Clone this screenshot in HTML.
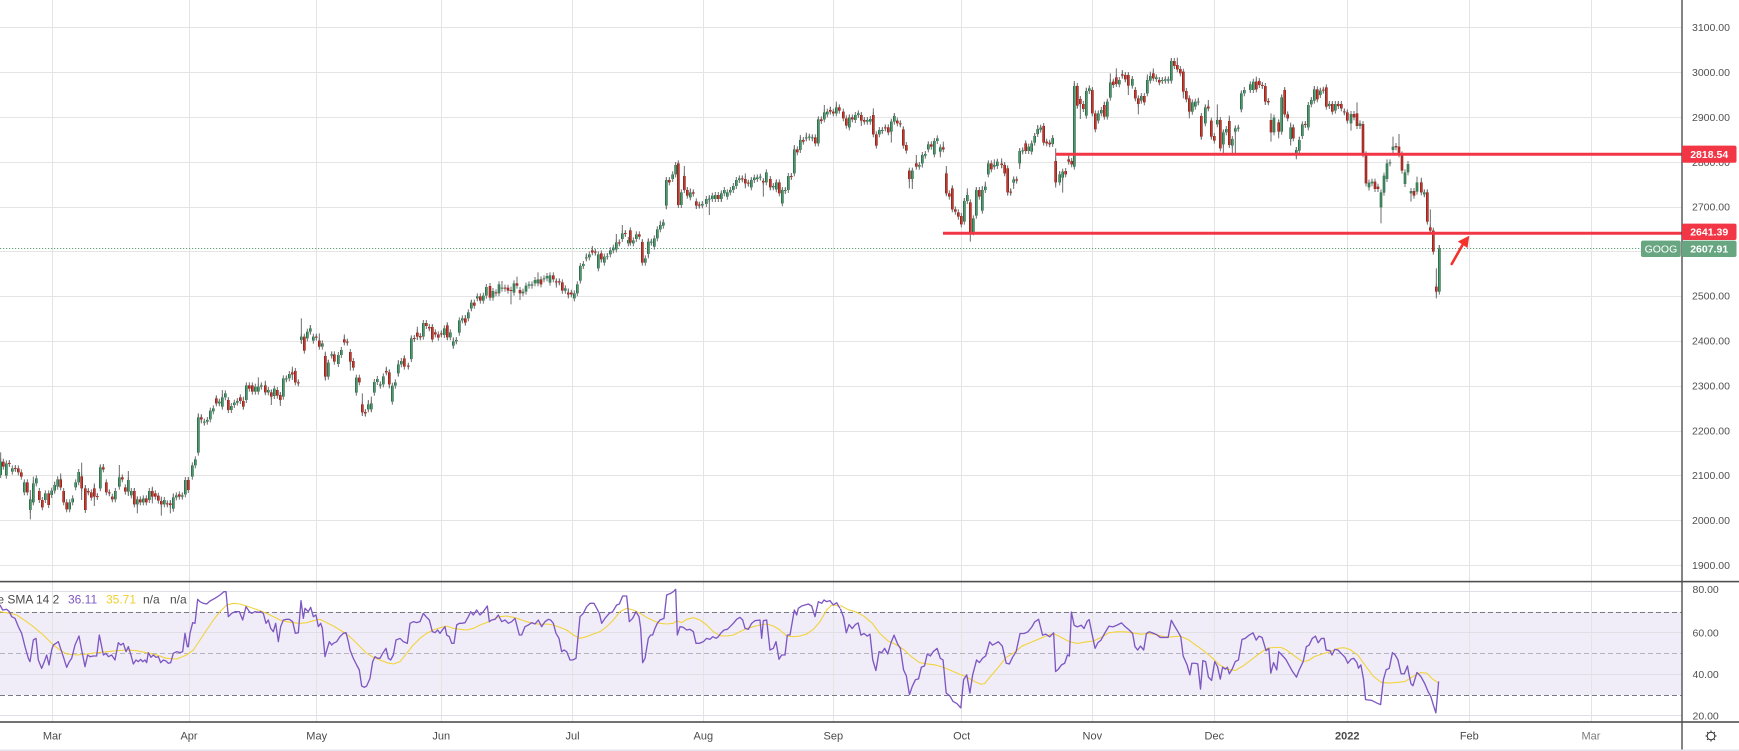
<!DOCTYPE html>
<html><head><meta charset="utf-8"><style>
html,body{margin:0;padding:0;background:#fff;overflow:hidden}
svg{display:block}
</style></head><body>
<svg width="1739" height="751" xmlns="http://www.w3.org/2000/svg" font-family="'Liberation Sans', Arial, sans-serif">
<defs>
<clipPath id="cm"><rect x="0" y="0" width="1681" height="581"/></clipPath>
<clipPath id="cr"><rect x="0" y="583" width="1681" height="138"/></clipPath>
<marker id="wk" markerUnits="userSpaceOnUse" markerWidth="1" markerHeight="1" orient="0" style="overflow:visible"><path d="M0 -9V9" stroke="#6d6d6d" stroke-width="3" fill="none"/></marker>
<path id="b5g" d="M2 575V615M19 580V617M37 595V605M73 637V667M91 688V720M100 640V697M109 625V640M136 670V690M155 662V675M164 645V662M173 628V650M209 697V718M218 685V697M227 637V652M236 606V637M301 592V655M346 663V688M358 622V650M385 630V665M394 663V676M412 688V703M430 685V697M448 663V690M493 690V703M520 682V716M529 676V682M547 676V680M556 630V673M577 586V620M586 568V586M595 442V548M613 455V458M622 450V455M631 422V448M640 415V424M658 395V400M667 382V410M676 370V382M694 408V420M703 398V405M712 393V398M739 346V390M766 350V365M775 350V365M784 346V350M805 360V367M823 356V378M850 325V380M859 325V328M868 312V325M904 200V210M922 185V205M931 175V185M940 200V212M967 220V230M985 278V320"/>
<path id="b5r" d="M10 575V590M28 579V582M46 594V597M55 595V607M64 607V620M82 637V667M118 663V690M127 690V712M146 670V705M182 628V652M191 663V697M200 697V718M245 619V655M256 655V720M265 663V667M274 667V683M283 655V680M292 678V681M310 592V598M319 637V667M328 667V670M337 680V688M367 622V628M376 652V665M403 663V703M421 688V697M439 685V697M457 663V680M466 670V680M475 677V692M484 693V703M502 700V703M511 700V705M538 673V680M565 630V660M604 442V448M649 385V400M685 390V420M721 382V393M730 393V410M748 346V356M757 346V365M796 346V367M814 367V380M832 360V377M841 375V390M877 307V313M886 303V337M895 337V340M913 200V242M949 200V203M958 212V230M976 258V320"/>
<path id="b6g" d="M35 643V647M55 645V672M64 630V645M109 713V758M145 793V808M154 790V808M163 726V758M172 717V726M181 733V737M190 709V733M217 737V785M226 727V737M235 673V700M244 663V673M274 595V657M310 549V590M373 565V585M391 577V592M400 604V617M409 600V604M418 541V578M427 535V541M445 517V535M454 488V505M472 469V475M490 467V482M499 441V467M519 453V473M537 433V460M546 443V446M582 430V458M609 455V460M618 437V455M627 433V437M636 433V437M645 420V430M654 418V430M672 415V418M681 408V415M690 406V428M736 445V452M763 460V475M772 433V460M781 378V422M790 372V378M799 352V355M808 343V352M835 343V385M853 350V368M862 348V350M871 331V343M880 323V331M889 307V328M907 280V297M925 300V310M940 301V310M949 283V297M976 355V368M985 305V342M994 305V308M1003 295V320M1012 268V295M1021 255V268M1030 247V257M1039 120V197"/>
<path id="b6r" d="M43 643V665M73 598V607M82 605V608M91 636V665M100 663V683M118 713V727M127 793V817M136 816V820M199 693V697M208 697V733M253 655V680M265 677V680M283 594V597M292 578V590M301 588V592M319 549V558M328 561V565M337 561V598M346 577V583M355 583V593M364 580V583M382 556V592M436 535V548M463 488V497M481 469V482M510 438V473M528 457V460M555 443V446M564 443V452M573 450V453M591 430V437M600 450V460M663 418V433M700 406V418M709 424V427M718 424V427M727 427V452M745 458V463M754 458V463M817 331V337M826 335V338M844 340V358M898 307V310M916 279V282M931 271V308M958 283V290M967 306V368M1048 120V127"/>
<path id="b7g" d="M8 283V297M17 255V283M34 337V375M61 337V352M97 372V376M109 357V372M118 356V359M127 347V357M136 345V357M154 340V357M163 330V340M172 337V350M181 330V337M190 318V330M199 300V318M208 295V300M244 300V322M253 293V300M262 292V297M271 290V293M289 277V307M310 318V322M319 307V328M337 330V370M346 330V333M355 288V330M373 208V280M391 180V210M409 172V175M418 170V173M427 172V175M445 118V190M463 97V118M472 95V103M499 82V100M538 112V142M556 105V120M565 100V105M592 120V125M601 117V125M628 150V163M637 150V153M664 125V155M673 108V125M727 272V297M748 255V260M757 225V250M766 222V227M775 193V208M793 183V223M802 175V183M811 202V215M883 363V425M892 345V363M910 415V457M919 330V407M937 330V392M946 320V330M955 250V283M973 255V260M982 245V258"/>
<path id="b7r" d="M25 250V375M43 288V330M52 330V347M70 337V341M79 364V377M88 374V377M145 345V357M217 295V298M226 297V310M235 308V311M280 303V307M301 297V322M328 307V340M364 288V291M382 208V217M400 180V185M436 172V190M454 118V123M481 90V95M490 95V100M508 82V92M520 95V115M529 115V137M547 112V118M574 105V122M583 120V125M610 105V163M619 163V197M646 142V145M655 142V157M682 122V130M691 130V133M700 148V197M709 195V212M718 272V297M739 250V260M784 193V200M820 202V208M829 280V340M838 340V350M847 325V388M856 388V395M865 397V410M874 408V433M901 367V457M928 330V350M964 250V268"/>
<path id="b8g" d="M71 403V413M89 318V355M98 316V319M116 305V318M125 295V320M134 273V293M143 252V267M152 248V254M188 279V297M209 388V412M218 380V398M253 123V365M289 138V212M298 130V138M325 205V227M334 195V205M352 170V215M361 112V158M388 105V118M427 102V122M454 153V167M472 105V145M481 93V107M499 97V102M517 105V108M526 103V107M535 103V107M544 48V107M607 172V200M616 170V185M625 170V172M646 187V235M682 225V238M700 262V298M709 252V262M727 282V302M736 250V260M745 248V251M754 145V193M763 135V145M781 118V135M790 110V135"/>
<path id="b8r" d="M35 356V360M44 360V385M53 370V442M62 440V443M80 403V407M107 295V318M161 243V293M170 290V295M179 293V298M197 348V412M227 378V388M236 343V350M245 348V358M262 123V182M271 162V177M280 177V192M307 135V205M316 205V253M343 180V215M370 110V120M379 97V117M397 88V92M406 90V103M415 90V122M436 135V160M445 160V177M463 153V172M490 85V100M508 105V112M553 48V63M562 60V73M571 72V85M580 80V140M589 138V163M598 160V200M634 213V275M655 185V190M664 227V275M673 273V287M691 225V310M718 228V300M799 110V133M808 108V120M817 120V123M826 123V170M835 168V172"/>
<path id="b9g" d="M12 143V187M35 82V185M62 172V207M79 240V253M88 210V242M97 163V198M115 105V172M124 90V103M133 58V92M151 62V75M178 102V108M196 102V122M243 132V160M270 160V168M297 338V352M306 335V340M333 367V412M342 317V368M351 280V327M360 277V280M369 230V240M405 307V342M414 282V307M423 363V370M441 337V365M463 367V373M508 535V665"/>
<path id="b9r" d="M3 150V187M26 157V185M44 60V133M53 133V145M70 172V205M106 162V165M142 58V88M160 59V62M169 52V110M187 102V125M205 102V108M214 102V115M223 124V127M232 127V152M252 132V142M261 130V168M279 162V253M288 253V340M315 335V357M324 350V357M378 228V232M387 230V253M396 253V302M432 363V377M454 337V367M472 367V455M481 472V482M490 482V545M499 650V665"/>
</defs>

<rect x="0" y="0" width="1739" height="751" fill="#ffffff"/>

<!-- RSI band -->
<rect x="0" y="612" width="1682" height="83" fill="#f0edf9"/>

<!-- grid -->
<path d="M52.5 0V722M189.5 0V722M316.5 0V722M441.5 0V722M572.5 0V722M703.5 0V722M833.5 0V722M961.5 0V722M1092.5 0V722M1214.5 0V722M1347.5 0V722M1469.5 0V722M1591.5 0V722" stroke="#e4e4e4" stroke-width="1" fill="none"/>
<path d="M0 27.5H1682M0 72.5H1682M0 117.5H1682M0 162.5H1682M0 207.5H1682M0 251.5H1682M0 296.5H1682M0 341.5H1682M0 386.5H1682M0 431.5H1682M0 475.5H1682M0 520.5H1682M0 565.5H1682" stroke="#e4e4e4" stroke-width="1" fill="none"/>
<path d="M0 591.5H1682M0 632.5H1682M0 674.5H1682M0 715.5H1682" stroke="#e0dfe6" stroke-width="1" fill="none"/>

<!-- RSI level lines -->
<path d="M0 612.5H1682M0 695.5H1682" stroke="#787b86" stroke-width="1" stroke-dasharray="5,3" fill="none"/>
<path d="M0 653.5H1682" stroke="#b4b4be" stroke-width="1" stroke-dasharray="5,3" fill="none"/>

<!-- current price dotted line -->
<path d="M0 248.5H1641" stroke="#5f9f7b" stroke-width="1" stroke-dasharray="1.2,1.8" fill="none"/>

<!-- candles -->
<g clip-path="url(#cm)" fill="none">
<g transform="translate(0,270) scale(0.333333)">
<path d="M2 547V617M91 660V748M904 145V222M100 620V700M164 635V668M182 610V655M245 578V690M256 645V722M283 640V708M301 585V657M310 582V600M358 585V652M385 603V678M403 655V705M412 680V730M457 650V700M484 680V737M511 690V730M520 670V718M565 622V662M595 430V550M604 433V460M649 378V405M667 360V412M685 385V422M730 380V418M775 322V365M796 332V372M814 360V405M841 368V408M877 290V330M886 300V340M931 165V190M958 190V232M976 245V332M985 270V322" stroke="#6d6d6d" stroke-width="3"/>
<use href="#b5g" stroke="none" marker-start="url(#wk)" marker-mid="url(#wk)" marker-end="url(#wk)"/>
<use href="#b5r" stroke="none" marker-start="url(#wk)" marker-mid="url(#wk)" marker-end="url(#wk)"/>
<use href="#b5g" stroke="#23603e" stroke-width="7.8"/>
<use href="#b5g" stroke="#55a479" stroke-width="3"/>
<use href="#b5r" stroke="#7d2019" stroke-width="7.8"/>
<use href="#b5r" stroke="#d93b30" stroke-width="3"/>
</g>
<g transform="translate(320,140) scale(0.333333)">
<path d="M73 583V610M91 636V692M127 760V828M136 815V830M145 780V812M154 770V815M199 680V700M208 690V745M235 660V710M253 648V680M274 590V660M292 560V600M337 555V600M382 548V600M400 592V626M436 525V555M454 480V512M510 432V475M546 423V447M573 440V493M591 410V440M600 448V480M654 397V432M709 420V443M745 445V475M781 375V425M799 340V358M817 318V340M844 338V368M889 282V330M907 255V298M931 268V315M967 300V370M985 295V355M1021 242V270M1030 240V258M1039 115V208" stroke="#6d6d6d" stroke-width="3"/>
<use href="#b6g" stroke="none" marker-start="url(#wk)" marker-mid="url(#wk)" marker-end="url(#wk)"/>
<use href="#b6r" stroke="none" marker-start="url(#wk)" marker-mid="url(#wk)" marker-end="url(#wk)"/>
<use href="#b6g" stroke="#23603e" stroke-width="7.8"/>
<use href="#b6g" stroke="#55a479" stroke-width="3"/>
<use href="#b6r" stroke="#7d2019" stroke-width="7.8"/>
<use href="#b6r" stroke="#d93b30" stroke-width="3"/>
</g>
<g transform="translate(670,80) scale(0.333333)">
<path d="M25 248V378M43 258V332M52 322V350M61 325V355M79 362V387M88 368V383M118 345V405M154 335V365M226 280V325M244 295V325M280 300V350M301 295V330M319 300V330M337 325V372M373 195V282M391 165V212M409 158V178M445 112V193M463 75V120M481 80V98M499 65V102M508 78V95M538 105V145M574 98V138M610 85V165M619 160V200M655 140V160M664 120V188M673 100V128M700 140V197M718 270V325M727 268V327M739 225V262M757 222V263M775 185V210M793 180V225M811 198V232M820 185V210M829 258V345M847 318V390M883 355V425M892 325V365M901 365V485M919 322V410M937 318V395M946 305V332M955 245V285M973 238V262M982 240V260" stroke="#6d6d6d" stroke-width="3"/>
<use href="#b7g" stroke="none" marker-start="url(#wk)" marker-mid="url(#wk)" marker-end="url(#wk)"/>
<use href="#b7r" stroke="none" marker-start="url(#wk)" marker-mid="url(#wk)" marker-end="url(#wk)"/>
<use href="#b7g" stroke="#23603e" stroke-width="7.8"/>
<use href="#b7g" stroke="#55a479" stroke-width="3"/>
<use href="#b7r" stroke="#7d2019" stroke-width="7.8"/>
<use href="#b7r" stroke="#d93b30" stroke-width="3"/>
</g>
<g transform="translate(990,45) scale(0.333333)">
<path d="M35 340V370M44 355V392M53 368V452M62 430V445M71 398V432M89 312V372M107 290V320M125 290V320M134 265V295M143 240V270M152 242V256M161 240V296M188 275V300M197 310V428M209 378V415M218 376V443M236 328V355M245 345V360M253 108V367M262 120V190M271 155V222M289 128V214M298 125V140M307 130V212M325 200V232M343 170V218M352 165V218M361 85V160M370 105V122M379 70V120M397 75V95M406 85V110M415 85V150M427 98V125M436 130V165M445 155V208M454 150V170M472 88V148M481 80V110M490 70V103M508 98V118M544 40V110M562 38V75M580 78V160M598 155V220M607 168V203M625 158V174M634 210V283M646 180V238M655 165V192M664 225V280M682 178V240M691 222V310M700 255V325M718 212V303M727 280V332M736 245V330M745 245V252M754 140V200M781 115V140M799 95V135M808 105V122M826 122V180" stroke="#6d6d6d" stroke-width="3"/>
<use href="#b8g" stroke="none" marker-start="url(#wk)" marker-mid="url(#wk)" marker-end="url(#wk)"/>
<use href="#b8r" stroke="none" marker-start="url(#wk)" marker-mid="url(#wk)" marker-end="url(#wk)"/>
<use href="#b8g" stroke="#23603e" stroke-width="7.8"/>
<use href="#b8g" stroke="#55a479" stroke-width="3"/>
<use href="#b8r" stroke="#7d2019" stroke-width="7.8"/>
<use href="#b8r" stroke="#d93b30" stroke-width="3"/>
</g>
<g transform="translate(1270,70) scale(0.333333)">
<path d="M3 130V215M12 140V190M26 150V205M35 75V187M44 55V135M53 128V148M62 158V227M70 165V207M79 232V268M88 200V244M97 160V200M124 85V105M133 48V95M151 55V78M169 50V112M187 98V128M205 95V110M214 100V117M232 122V155M243 125V182M261 97V170M279 158V255M288 250V342M297 330V362M315 330V360M333 365V460M342 310V370M351 268V330M369 200V242M387 192V255M396 250V305M405 300V345M423 355V395M432 360V380M441 320V368M454 323V370M463 360V378M472 360V458M481 418V485M490 478V547M499 595V685M508 525V667" stroke="#6d6d6d" stroke-width="3"/>
<use href="#b9g" stroke="none" marker-start="url(#wk)" marker-mid="url(#wk)" marker-end="url(#wk)"/>
<use href="#b9r" stroke="none" marker-start="url(#wk)" marker-mid="url(#wk)" marker-end="url(#wk)"/>
<use href="#b9g" stroke="#23603e" stroke-width="7.8"/>
<use href="#b9g" stroke="#55a479" stroke-width="3"/>
<use href="#b9r" stroke="#7d2019" stroke-width="7.8"/>
<use href="#b9r" stroke="#d93b30" stroke-width="3"/>
</g>
</g>

<!-- support / resistance lines -->
<path d="M1055.7 154.2H1682" stroke="#f23645" stroke-width="3" fill="none"/>
<path d="M943 233.2H1682" stroke="#f23645" stroke-width="3" fill="none"/>

<!-- arrow -->
<path d="M1451.7 264L1462.5 245" stroke="#f5312c" stroke-width="2.6" fill="none" stroke-linecap="round"/>
<path d="M1469.3 235.7L1457.8 241.5L1467.5 248Z" fill="#f5312c"/>

<!-- RSI lines -->
<g clip-path="url(#cr)" fill="none" stroke-linejoin="round">
<g transform="translate(0,580) scale(0.333333)">
<polyline stroke="#f2d33c" stroke-width="3.3" points="0,95 30,100 50,105 80,125 100,140 130,165 160,195 180,210 200,222 230,225 260,222 290,218 320,215 350,212 380,210 410,212 440,218 470,225 500,235 530,237 560,225 580,210 600,180 620,150 640,120 660,95 680,75 700,70 720,72 740,78 760,85 780,92 800,100 820,110 840,120 860,125 880,128 900,130 920,128 940,122 960,118 980,128 1000,138 1020,150 1040,162 1060,180 1080,200 1100,220 1120,232 1140,240 1160,248 1180,252 1200,245"/>
<polyline stroke="#7e57c2" stroke-width="4" points="0,75 8,90 20,88 28,95 35,110 45,115 55,140 65,160 75,200 85,235 90,245 100,180 108,175 115,240 125,265 133,245 140,225 147,255 155,210 160,195 168,190 175,185 180,200 190,230 200,262 208,245 215,235 225,195 237,168 245,210 255,260 263,225 270,230 280,228 290,228 298,165 305,200 310,225 318,220 325,230 335,225 345,240 355,188 362,195 370,190 378,215 385,200 392,222 400,252 408,240 415,245 422,238 428,245 435,240 440,248 445,218 453,232 460,225 468,232 475,230 482,248 490,240 498,243 505,250 512,248 520,220 530,215 540,218 548,215 555,160 562,200 565,200 570,160 578,128 585,130 593,58 600,65 610,70 620,72 630,63 645,55 660,45 672,35 678,35 685,110 695,100 705,95 718,95 728,120 738,80 748,95 755,100 765,95 775,97 782,95 790,100 798,130 805,120 812,145 820,155 827,130 835,185 842,140 850,120 860,118 868,118 878,125 886,160 895,158 903,62 910,115 915,85 925,95 932,82 940,110 948,105 955,140 962,130 967,145 975,230 982,205 988,185 995,195 1000,190 1010,185 1020,170 1030,160 1038,158 1045,185 1050,210 1060,235 1070,255 1078,270 1085,318 1093,322 1100,318 1110,295 1118,245 1125,230 1133,235 1140,235 1148,220 1158,205 1165,235 1172,240 1180,225 1188,180 1200,175"/>
</g>
<g transform="translate(400,580) scale(0.333333)">
<polyline stroke="#f2d33c" stroke-width="3.3" points="0,245 20,220 40,195 60,175 80,160 100,150 120,143 140,138 160,145 180,148 200,150 220,145 240,135 260,128 280,118 300,110 320,108 340,112 360,118 380,125 400,130 420,133 440,132 460,135 480,142 500,150 520,165 540,175 560,170 580,162 600,155 620,140 640,120 660,95 680,85 700,90 720,100 740,112 760,122 780,130 800,132 820,130 830,122 845,128 860,118 880,113 900,120 920,135 940,155 960,167 980,168 1000,165 1020,155 1040,145 1060,140 1080,135 1100,132 1120,138 1140,150 1160,168 1180,170 1200,168 1220,162 1240,148 1260,125 1280,90 1295,75 1310,76 1320,82"/>
<polyline stroke="#7e57c2" stroke-width="4" points="0,175 10,185 22,190 30,130 40,125 50,128 60,125 70,100 78,110 88,120 97,155 105,158 113,150 120,160 127,150 135,140 140,165 148,170 155,190 162,190 170,135 178,130 185,130 195,128 205,110 212,95 220,105 230,90 240,105 250,95 262,78 268,125 275,120 285,118 295,105 305,125 315,120 325,130 335,125 345,115 358,165 365,165 375,140 385,135 395,128 405,132 415,120 425,140 435,125 445,118 452,120 460,130 468,160 477,175 485,215 492,210 500,215 510,240 518,240 528,235 540,110 550,100 560,80 570,70 582,70 590,85 598,100 605,130 615,115 628,100 638,95 650,75 658,72 668,48 680,48 688,125 698,115 708,95 717,110 722,145 728,248 735,235 745,175 752,165 758,165 765,145 772,130 780,120 792,115 800,45 812,40 820,35 827,28 832,165 840,140 850,142 860,150 870,148 880,155 888,190 898,190 910,185 920,175 930,178 938,170 948,175 955,170 962,160 972,150 982,148 990,140 1000,130 1010,118 1020,112 1028,120 1035,145 1045,148 1055,130 1065,122 1080,120 1085,175 1090,122 1100,120 1110,210 1120,205 1128,185 1137,238 1145,225 1155,225 1162,165 1170,165 1183,90 1190,105 1195,85 1205,78 1215,75 1225,72 1235,78 1245,110 1255,65 1265,70 1272,60 1280,65 1290,62 1300,75 1310,68 1320,85"/>
</g>
<g transform="matrix(0.3949 0 0 0.3307 840.37 580.58)">
<polyline vector-effect="non-scaling-stroke" stroke="#f2d33c" stroke-width="1.1" points="0,75 20,88 40,95 60,108 80,128 100,160 120,182 140,193 160,208 180,230 200,248 220,252 240,255 260,262 280,272 300,282 320,292 340,305 355,313 365,312 380,290 400,262 420,232 440,218 460,198 480,188 500,178 520,168 540,160 560,172 580,185 600,190 620,186 640,183 660,172 680,158 700,155 720,155 740,158 760,162 780,160 800,163 820,170 840,170 860,168 880,178 900,195 920,212 940,232 960,255 980,268 1000,272 1020,258 1040,240 1060,222 1080,205 1100,202 1115,202 1130,210 1150,228 1170,245 1185,242 1200,230 1220,222 1240,215 1260,205 1275,203 1290,208 1310,225 1330,258 1350,290 1370,308 1390,310 1410,308 1430,305 1450,290 1470,278 1485,280 1500,298 1515,310"/>
<polyline vector-effect="non-scaling-stroke" stroke="#7e57c2" stroke-width="1.35" points="0,85 8,110 15,158 22,133 30,145 38,133 45,128 52,165 60,160 68,168 75,162 82,240 90,272 98,215 105,218 112,205 120,222 128,188 136,165 145,192 152,205 160,270 167,288 175,345 182,320 190,300 198,297 205,262 213,258 220,222 228,228 235,215 245,205 253,235 260,240 268,340 278,350 285,365 295,372 305,385 312,300 320,285 328,340 335,285 345,240 352,248 360,235 368,228 378,185 385,195 393,190 400,185 410,198 420,250 428,252 436,232 445,215 455,160 465,160 475,155 485,140 492,125 502,117 512,165 520,162 530,170 540,158 545,275 552,268 560,255 568,250 575,225 580,228 585,95 592,135 600,140 610,135 617,145 625,123 630,118 637,160 645,205 652,188 660,180 670,158 680,138 690,140 700,135 712,128 720,138 730,148 740,160 746,200 753,210 760,198 768,210 775,160 782,155 790,158 800,163 810,172 820,172 830,172 838,120 845,135 855,155 862,170 868,228 878,255 885,285 890,250 898,250 905,252 912,328 918,242 925,245 932,292 940,302 948,245 955,260 962,298 968,262 975,268 980,262 985,282 992,268 1000,245 1008,240 1017,178 1025,175 1035,165 1045,158 1053,180 1060,168 1068,172 1078,212 1085,205 1090,280 1097,248 1105,270 1110,215 1118,225 1128,238 1138,260 1145,275 1155,292 1162,270 1172,245 1180,200 1187,195 1195,175 1203,168 1210,188 1218,175 1225,175 1230,210 1240,212 1245,225 1252,208 1260,210 1268,220 1278,232 1285,250 1293,238 1300,235 1308,248 1312,265 1318,255 1325,300 1330,360 1345,362 1358,370 1368,375 1375,300 1382,270 1390,265 1398,218 1405,225 1412,240 1420,282 1428,282 1436,258 1440,285 1445,312 1450,318 1460,278 1470,290 1480,312 1488,335 1495,350 1502,378 1508,400 1515,305"/>
</g>
</g>

<!-- RSI legend -->
<text y="603.3" font-size="12" fill="#4c4c4c"><tspan x="-2.7">e SMA 14 2</tspan><tspan x="68" fill="#7e57c2">36.11</tspan><tspan x="106" fill="#efcf2c">35.71</tspan><tspan x="143">n/a</tspan><tspan x="170">n/a</tspan></text>

<!-- axis area -->
<rect x="1683" y="0" width="56" height="721" fill="#ffffff"/>
<rect x="0" y="722.5" width="1739" height="28.5" fill="#ffffff"/>
<rect x="0" y="580.8" width="1739" height="1.6" fill="#4f4f4f"/>
<rect x="0" y="721.2" width="1739" height="1.6" fill="#4f4f4f"/>
<rect x="1681.3" y="0" width="1.4" height="751" fill="#4f4f4f"/>
<rect x="0" y="749.5" width="1739" height="1.5" fill="#e6e4ee"/>

<g font-size="10.5" fill="#505050">
<text x="1692" y="30.8">3100.00</text>
<text x="1692" y="75.8">3000.00</text>
<text x="1692" y="120.8">2900.00</text>
<text x="1692" y="165.8">2800.00</text>
<text x="1692" y="210.3">2700.00</text>
<text x="1692" y="255.3">2600.00</text>
<text x="1692" y="299.3">2500.00</text>
<text x="1692" y="344.3">2400.00</text>
<text x="1692" y="389.3">2300.00</text>
<text x="1692" y="434.3">2200.00</text>
<text x="1692" y="478.8">2100.00</text>
<text x="1692" y="523.8">2000.00</text>
<text x="1692" y="568.8">1900.00</text>
<text x="1692.5" y="593.1">80.00</text>
<text x="1692.5" y="636.5">60.00</text>
<text x="1692.5" y="677.8">40.00</text>
<text x="1692.5" y="719.5">20.00</text>
</g>

<!-- price labels -->
<rect x="1682" y="145.6" width="54.5" height="17.2" rx="2" fill="#f23645"/>
<text x="1709.2" y="158" font-size="10.5" font-weight="bold" fill="#ffffff" text-anchor="middle">2818.54</text>
<rect x="1682" y="223.6" width="54.5" height="16.4" rx="2" fill="#f23645"/>
<text x="1709.2" y="235.6" font-size="10.5" font-weight="bold" fill="#ffffff" text-anchor="middle">2641.39</text>
<rect x="1682" y="240.6" width="54.5" height="16.4" rx="2" fill="#68a682"/>
<text x="1709.2" y="252.6" font-size="10.5" font-weight="bold" fill="#ffffff" text-anchor="middle">2607.91</text>
<rect x="1641" y="240.6" width="39.8" height="16.4" rx="2" fill="#68a682"/>
<text x="1660.9" y="252.6" font-size="10.5" fill="#ffffff" text-anchor="middle">GOOG</text>

<!-- time axis -->
<g font-size="11" fill="#4a4a4a" text-anchor="middle">
<text x="52.3" y="739.5">Mar</text>
<text x="189" y="739.5">Apr</text>
<text x="316.7" y="739.5">May</text>
<text x="441.3" y="739.5">Jun</text>
<text x="572.5" y="739.5">Jul</text>
<text x="703.3" y="739.5">Aug</text>
<text x="833.3" y="739.5">Sep</text>
<text x="961.7" y="739.5">Oct</text>
<text x="1092.3" y="739.5">Nov</text>
<text x="1214.3" y="739.5">Dec</text>
<text x="1347.3" y="739.5" font-weight="bold">2022</text>
<text x="1469.3" y="739.5">Feb</text>
<text x="1591" y="739.5" fill="#7a7a7a">Mar</text>
</g>

<!-- settings icon -->
<g stroke="#2a2a2a" stroke-width="1" fill="none">
<circle cx="1711" cy="736" r="3.8"/>
<path d="M1711 730.5V732.2M1711 739.8V741.5M1705.5 736H1707.2M1714.8 736H1716.5M1707.1 732.1L1708.3 733.3M1713.7 738.7L1714.9 739.9M1714.9 732.1L1713.7 733.3M1708.3 738.7L1707.1 739.9"/>
</g>
</svg>
</body></html>
